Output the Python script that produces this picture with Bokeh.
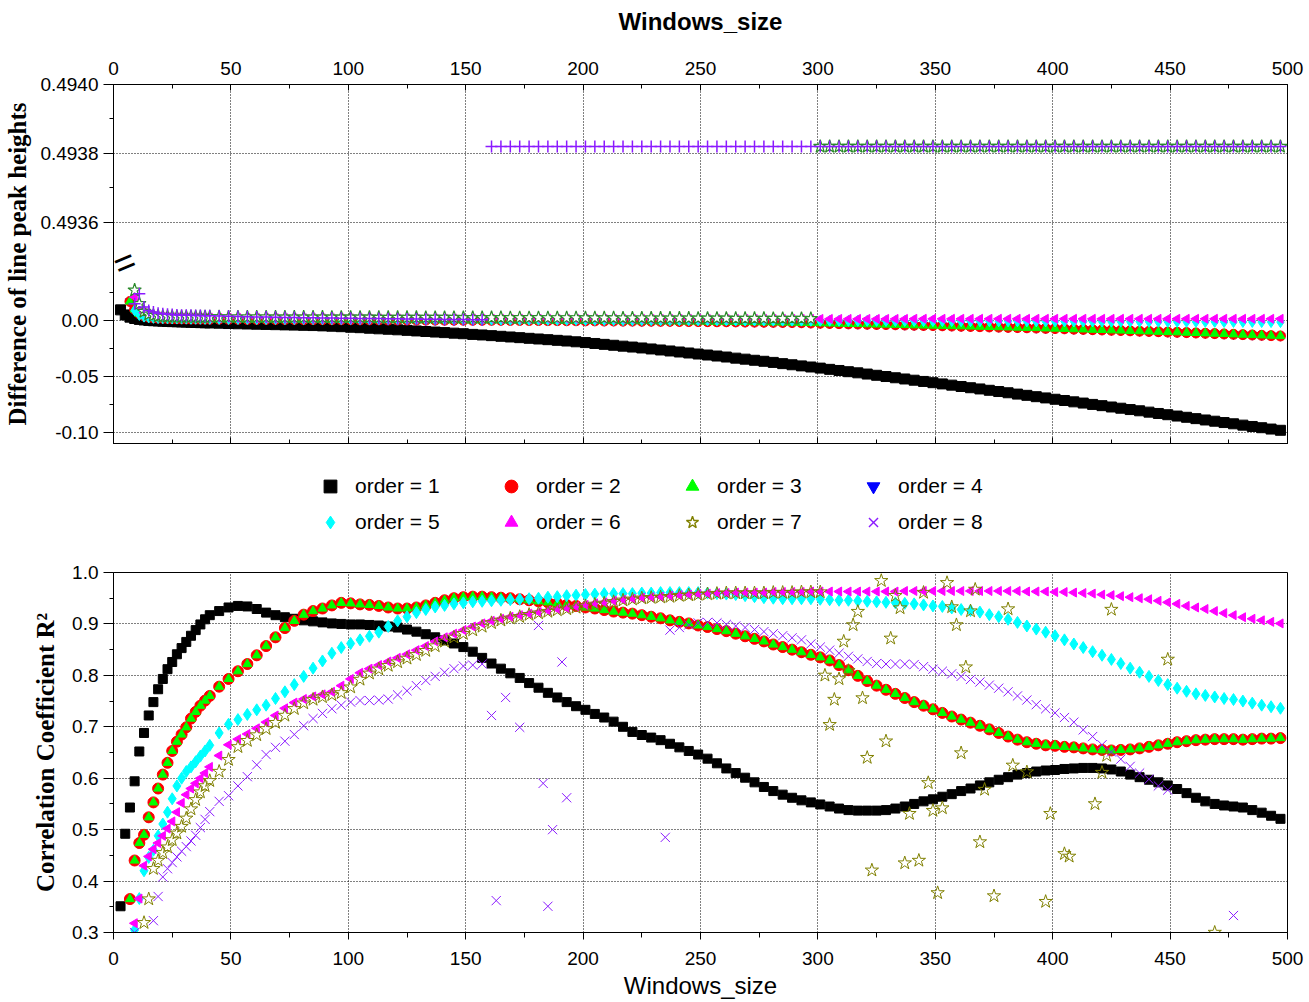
import math
from bokeh.plotting import figure
from bokeh.models import (Range1d, LinearAxis, FixedTicker, SingleIntervalTicker, Label,
                          Legend, LegendItem)
from bokeh.layouts import column
from bokeh.embed import file_html
from bokeh.resources import INLINE

SANS = "Liberation Sans"
SERIF = "Liberation Serif"

# ---------------- window sizes (x) ----------------
win = list(range(3, 42, 2)) + list(range(45, 498, 4))   # 134 window sizes

# ================= TOP PANEL: difference of line peak heights =================
top_o1 = [0.0095, 0.0050, 0.0030, 0.0018, 0.0010, 0.0005, 0.0001, -0.0002, -0.0004, -0.0006,
          -0.0008, -0.0010, -0.0011, -0.0013, -0.0014, -0.0016, -0.0017, -0.0019, -0.0020, -0.0022,
          -0.0024, -0.0027, -0.0029, -0.0031, -0.0033, -0.0035, -0.0037, -0.0039, -0.0041, -0.0043,
          -0.0045, -0.0048, -0.0051, -0.0055, -0.0060, -0.0064, -0.0069, -0.0074, -0.0078, -0.0083,
          -0.0088, -0.0093, -0.0098, -0.0103, -0.0108, -0.0113, -0.0118, -0.0124, -0.0129, -0.0135,
          -0.0141, -0.0147, -0.0153, -0.0159, -0.0165, -0.0171, -0.0177, -0.0183, -0.0190, -0.0197,
          -0.0205, -0.0213, -0.0221, -0.0229, -0.0237, -0.0245, -0.0254, -0.0263, -0.0272, -0.0281,
          -0.0290, -0.0299, -0.0308, -0.0317, -0.0326, -0.0336, -0.0345, -0.0355, -0.0364, -0.0374,
          -0.0385, -0.0395, -0.0405, -0.0415, -0.0425, -0.0436, -0.0446, -0.0457, -0.0467, -0.0478,
          -0.0489, -0.0500, -0.0511, -0.0522, -0.0533, -0.0544, -0.0555, -0.0566, -0.0577, -0.0589,
          -0.0600, -0.0611, -0.0623, -0.0634, -0.0645, -0.0657, -0.0668, -0.0680, -0.0691, -0.0703,
          -0.0714, -0.0726, -0.0737, -0.0749, -0.0760, -0.0772, -0.0783, -0.0795, -0.0806, -0.0818,
          -0.0830, -0.0841, -0.0853, -0.0864, -0.0876, -0.0888, -0.0899, -0.0911, -0.0922, -0.0934,
          -0.0946, -0.0957, -0.0969, -0.0980]
# orders 2, 3, 4 (start at window 7)
top_o2 = [0.0170, 0.0100, 0.0060, 0.0040, 0.0030, 0.0025, 0.0022, 0.0020, 0.0018, 0.0017,
          0.0016, 0.0015, 0.0015, 0.0014, 0.0014, 0.0013, 0.0013, 0.0012,
          0.0012, 0.0011, 0.0011, 0.0010, 0.0010, 0.0010, 0.0009, 0.0009, 0.0009, 0.0008,
          0.0008, 0.0008, 0.0007, 0.0007, 0.0007, 0.0006, 0.0006, 0.0006, 0.0005, 0.0005,
          0.0005, 0.0004, 0.0004, 0.0004, 0.0003, 0.0003, 0.0003, 0.0002, 0.0002, 0.0002,
          0.0002, 0.0001, 0.0001, 0.0000, 0.0000, -0.0001, -0.0001, -0.0002, -0.0002, -0.0003,
          -0.0003, -0.0004, -0.0004, -0.0005, -0.0005, -0.0006, -0.0006, -0.0007, -0.0007, -0.0008,
          -0.0009, -0.0009, -0.0010, -0.0011, -0.0011, -0.0012, -0.0013, -0.0014, -0.0015, -0.0016,
          -0.0017, -0.0018, -0.0020, -0.0022, -0.0024, -0.0026, -0.0028, -0.0030, -0.0031, -0.0033,
          -0.0035, -0.0036, -0.0038, -0.0040, -0.0042, -0.0044, -0.0045, -0.0047, -0.0049, -0.0051,
          -0.0053, -0.0055, -0.0057, -0.0059, -0.0061, -0.0063, -0.0065, -0.0067, -0.0070, -0.0072,
          -0.0074, -0.0077, -0.0079, -0.0082, -0.0084, -0.0087, -0.0089, -0.0092, -0.0095, -0.0097,
          -0.0100, -0.0103, -0.0105, -0.0108, -0.0111, -0.0114, -0.0117, -0.0120, -0.0123, -0.0126,
          -0.0129, -0.0132, -0.0135, -0.0138]
top_o3 = list(top_o2)
top_o4 = list(top_o2)
# order 5 (start at window 9)
top_o5 = [0.0090, 0.0050, 0.0035, 0.0028, 0.0024, 0.0022, 0.0020, 0.0019, 0.0018, 0.0018,
          0.0017, 0.0017, 0.0016, 0.0016, 0.0016, 0.0015, 0.0015,
          0.0015, 0.0014, 0.0014, 0.0014, 0.0013, 0.0013, 0.0013, 0.0012, 0.0012, 0.0012,
          0.0012, 0.0011, 0.0011, 0.0011, 0.0011, 0.0010, 0.0010, 0.0010, 0.0010, 0.0009,
          0.0009, 0.0009, 0.0009, 0.0008, 0.0008, 0.0008, 0.0008, 0.0007, 0.0007, 0.0007,
          0.0007, 0.0006, 0.0006, 0.0006, 0.0006, 0.0005, 0.0005, 0.0005, 0.0005, 0.0004,
          0.0004, 0.0004, 0.0004, 0.0003, 0.0003, 0.0003, 0.0003, 0.0002, 0.0002, 0.0002,
          0.0002, 0.0001, 0.0001, 0.0001, 0.0001, 0.0000, 0.0000, 0.0000, 0.0000, -0.0001,
          -0.0001, -0.0001, -0.0001, -0.0002, -0.0002, -0.0002, -0.0002, -0.0003, -0.0003, -0.0003,
          -0.0003, -0.0004, -0.0004, -0.0004, -0.0004, -0.0005, -0.0005, -0.0005, -0.0005, -0.0006,
          -0.0006, -0.0006, -0.0006, -0.0007, -0.0007, -0.0007, -0.0007, -0.0008, -0.0008, -0.0008,
          -0.0008, -0.0009, -0.0009, -0.0009, -0.0009, -0.0010, -0.0010, -0.0010, -0.0010, -0.0011,
          -0.0011, -0.0011, -0.0011, -0.0012, -0.0012, -0.0012, -0.0012, -0.0013, -0.0013, -0.0013,
          -0.0013, -0.0014, -0.0014, -0.0014]
# order 6 (start at window 9)
top_o6 = [0.0210, 0.0120, 0.0070, 0.0050, 0.0040, 0.0035, 0.0032, 0.0030, 0.0029, 0.0028,
          0.0027, 0.0026, 0.0026, 0.0025, 0.0025, 0.0024, 0.0024,
          0.0023, 0.0023, 0.0022, 0.0022, 0.0022, 0.0021, 0.0021, 0.0021, 0.0020, 0.0020,
          0.0020, 0.0020, 0.0019, 0.0019, 0.0019, 0.0019, 0.0018, 0.0018, 0.0018, 0.0018,
          0.0018, 0.0017, 0.0017, 0.0017, 0.0017, 0.0017, 0.0016, 0.0016, 0.0016, 0.0016,
          0.0016, 0.0016, 0.0016, 0.0015, 0.0015, 0.0015, 0.0015, 0.0015, 0.0015, 0.0015,
          0.0015, 0.0015, 0.0015, 0.0014, 0.0014, 0.0014, 0.0014, 0.0014, 0.0014, 0.0014,
          0.0014, 0.0014, 0.0014, 0.0014, 0.0014, 0.0014, 0.0014, 0.0014, 0.0014, 0.0014,
          0.0014, 0.0014, 0.0014, 0.0014, 0.0014, 0.0014, 0.0014, 0.0014, 0.0014, 0.0014,
          0.0014, 0.0014, 0.0014, 0.0014, 0.0015, 0.0015, 0.0015, 0.0015, 0.0015, 0.0015,
          0.0015, 0.0015, 0.0015, 0.0015, 0.0015, 0.0015, 0.0015, 0.0015, 0.0015, 0.0015,
          0.0015, 0.0015, 0.0015, 0.0015, 0.0015, 0.0015, 0.0015, 0.0015, 0.0015, 0.0015,
          0.0015, 0.0015, 0.0015, 0.0015, 0.0015, 0.0015, 0.0015, 0.0015, 0.0015, 0.0015,
          0.0015, 0.0015, 0.0015, 0.0015]
# order 7 (start at window 9): lower band up to 297, upper band from 301
top_o7 = [0.0270, 0.0150, 0.0080, 0.0055, 0.0045, 0.0040, 0.0037, 0.0035, 0.0034, 0.0033,
          0.0033, 0.0032, 0.0032, 0.0032, 0.0031, 0.0031, 0.0031,
          0.0031, 0.0030, 0.0030, 0.0030, 0.0030, 0.0030, 0.0029, 0.0029, 0.0029, 0.0029,
          0.0029, 0.0029, 0.0028, 0.0028, 0.0028, 0.0028, 0.0028, 0.0027, 0.0027, 0.0027,
          0.0027, 0.0027, 0.0026, 0.0026, 0.0026, 0.0026, 0.0025, 0.0025, 0.0025, 0.0025,
          0.0025, 0.0024, 0.0024, 0.0024, 0.0024, 0.0023, 0.0023, 0.0023, 0.0023, 0.0022,
          0.0022, 0.0022, 0.0022, 0.0021, 0.0021, 0.0021, 0.0021, 0.0020, 0.0020, 0.0020,
          0.0020, 0.0019, 0.0019, 0.0019, 0.0019, 0.0018, 0.0018, 0.0018, 0.0018, 0.0017,
          0.0017, 0.0017, 0.0017, 0.0016,
          0.49382, 0.49382, 0.49382, 0.49382, 0.49382, 0.49382, 0.49382, 0.49382, 0.49382, 0.49382,
          0.49382, 0.49382, 0.49382, 0.49382, 0.49382, 0.49382, 0.49382, 0.49382, 0.49382, 0.49382,
          0.49382, 0.49382, 0.49382, 0.49382, 0.49382, 0.49382, 0.49382, 0.49382, 0.49382, 0.49382,
          0.49382, 0.49382, 0.49382, 0.49382, 0.49382, 0.49382, 0.49382, 0.49382, 0.49382, 0.49382,
          0.49382, 0.49382, 0.49382, 0.49382, 0.49382, 0.49382, 0.49382, 0.49382, 0.49382, 0.49382]
# order 8 (start at window 9): lower band up to 157, upper band from 161
top_o8 = [0.0150, 0.0240, 0.0120, 0.0090, 0.0075, 0.0065, 0.0060, 0.0056, 0.0053, 0.0050,
          0.0048, 0.0047, 0.0046, 0.0045, 0.0044, 0.0043, 0.0042,
          0.0040, 0.0038, 0.0036, 0.0034, 0.0032, 0.0031, 0.0029, 0.0028, 0.0026, 0.0025,
          0.0024, 0.0023, 0.0022, 0.0021, 0.0020, 0.0019, 0.0018, 0.0017, 0.0016, 0.0015,
          0.0014, 0.0013, 0.0012, 0.0011, 0.0010, 0.0009, 0.0008, 0.0007, 0.0006,
          0.49382, 0.49382, 0.49382, 0.49382, 0.49382, 0.49382, 0.49382, 0.49382, 0.49382, 0.49382,
          0.49382, 0.49382, 0.49382, 0.49382, 0.49382, 0.49382, 0.49382, 0.49382, 0.49382, 0.49382,
          0.49382, 0.49382, 0.49382, 0.49382, 0.49382, 0.49382, 0.49382, 0.49382, 0.49382, 0.49382,
          0.49382, 0.49382, 0.49382, 0.49382, 0.49382, 0.49382, 0.49382, 0.49382, 0.49382, 0.49382,
          0.49382, 0.49382, 0.49382, 0.49382, 0.49382, 0.49382, 0.49382, 0.49382, 0.49382, 0.49382,
          0.49382, 0.49382, 0.49382, 0.49382, 0.49382, 0.49382, 0.49382, 0.49382, 0.49382, 0.49382,
          0.49382, 0.49382, 0.49382, 0.49382, 0.49382, 0.49382, 0.49382, 0.49382, 0.49382, 0.49382,
          0.49382, 0.49382, 0.49382, 0.49382, 0.49382, 0.49382, 0.49382, 0.49382, 0.49382, 0.49382,
          0.49382, 0.49382, 0.49382, 0.49382, 0.49382]

# ================= BOTTOM PANEL: correlation coefficient R^2 =================
r2_o1 = [0.351, 0.492, 0.543, 0.594, 0.652, 0.688, 0.722, 0.748, 0.773, 0.793,
         0.812, 0.826, 0.841, 0.853, 0.865, 0.877, 0.888, 0.899, 0.909, 0.917,
         0.925, 0.932, 0.935, 0.934, 0.929, 0.922, 0.917, 0.913, 0.910, 0.907,
         0.905, 0.903, 0.901, 0.900, 0.899, 0.899, 0.898, 0.897, 0.895, 0.893,
         0.889, 0.885, 0.880, 0.874, 0.868, 0.862, 0.855, 0.846, 0.834, 0.823,
         0.813, 0.804, 0.795, 0.785, 0.776, 0.766, 0.757, 0.748, 0.740, 0.733,
         0.725, 0.718, 0.710, 0.700, 0.690, 0.684, 0.679, 0.674, 0.667, 0.660,
         0.653, 0.646, 0.638, 0.629, 0.619, 0.610, 0.601, 0.592, 0.583, 0.575,
         0.568, 0.562, 0.557, 0.553, 0.549, 0.545, 0.541, 0.538, 0.537, 0.537,
         0.537, 0.538, 0.541, 0.545, 0.550, 0.555, 0.559, 0.564, 0.569, 0.575,
         0.580, 0.586, 0.592, 0.597, 0.602, 0.607, 0.610, 0.613, 0.615, 0.616,
         0.618, 0.619, 0.620, 0.620, 0.619, 0.617, 0.613, 0.607, 0.602, 0.597,
         0.592, 0.586, 0.579, 0.571, 0.562, 0.555, 0.550, 0.547, 0.545, 0.543,
         0.538, 0.533, 0.527, 0.521]
# orders 2, 3, 4 (start at window 7)
r2_o2 = [0.365, 0.440, 0.474, 0.490, 0.524, 0.553, 0.580, 0.607, 0.630, 0.653,
         0.671, 0.685, 0.699, 0.716, 0.729, 0.741, 0.751, 0.760,
         0.778, 0.793, 0.808, 0.822, 0.839, 0.857, 0.874, 0.892, 0.906, 0.918,
         0.925, 0.930, 0.936, 0.941, 0.940, 0.938, 0.937, 0.935, 0.932, 0.930,
         0.930, 0.932, 0.936, 0.941, 0.946, 0.950, 0.952, 0.953, 0.953, 0.952,
         0.951, 0.950, 0.948, 0.946, 0.944, 0.942, 0.940, 0.937, 0.935, 0.932,
         0.930, 0.927, 0.924, 0.922, 0.920, 0.917, 0.914, 0.911, 0.907, 0.904,
         0.901, 0.897, 0.894, 0.890, 0.886, 0.881, 0.876, 0.871, 0.866, 0.860,
         0.855, 0.850, 0.845, 0.840, 0.835, 0.829, 0.820, 0.810, 0.799, 0.789,
         0.780, 0.772, 0.764, 0.756, 0.748, 0.741, 0.734, 0.727, 0.720, 0.714,
         0.708, 0.702, 0.695, 0.688, 0.681, 0.675, 0.670, 0.667, 0.664, 0.663,
         0.661, 0.660, 0.658, 0.656, 0.655, 0.654, 0.655, 0.656, 0.658, 0.661,
         0.664, 0.667, 0.670, 0.672, 0.674, 0.675, 0.676, 0.676, 0.676, 0.675,
         0.676, 0.677, 0.677, 0.678]
r2_o3 = list(r2_o2)
r2_o4 = list(r2_o2)
# order 5 (start at window 9)
r2_o5 = [0.305, 0.366, 0.420, 0.446, 0.460, 0.488, 0.511, 0.534, 0.560, 0.585,
         0.600, 0.613, 0.622, 0.632, 0.643, 0.653, 0.664,
         0.688, 0.705, 0.714, 0.724, 0.733, 0.742, 0.755, 0.768, 0.782, 0.798,
         0.814, 0.828, 0.843, 0.854, 0.862, 0.869, 0.876, 0.884, 0.895, 0.906,
         0.914, 0.922, 0.928, 0.933, 0.936, 0.939, 0.941, 0.943, 0.944, 0.945,
         0.946, 0.947, 0.948, 0.949, 0.950, 0.952, 0.953, 0.955, 0.956, 0.957,
         0.958, 0.959, 0.959, 0.959, 0.959, 0.960, 0.960, 0.961, 0.961, 0.961,
         0.961, 0.961, 0.960, 0.959, 0.958, 0.957, 0.955, 0.953, 0.951, 0.950,
         0.949, 0.949, 0.949, 0.949, 0.948, 0.947, 0.946, 0.946, 0.945, 0.944,
         0.943, 0.942, 0.941, 0.940, 0.939, 0.937, 0.935, 0.934, 0.931, 0.928,
         0.926, 0.923, 0.918, 0.914, 0.909, 0.903, 0.896, 0.890, 0.884, 0.877,
         0.869, 0.861, 0.854, 0.846, 0.839, 0.831, 0.823, 0.814, 0.806, 0.798,
         0.790, 0.782, 0.775, 0.769, 0.764, 0.761, 0.758, 0.755, 0.753, 0.750,
         0.746, 0.742, 0.739, 0.736]
# order 6 (start at window 9)
r2_o6 = [0.318, 0.366, 0.430, 0.448, 0.462, 0.474, 0.488, 0.502, 0.516, 0.534,
         0.552, 0.568, 0.580, 0.590, 0.600, 0.610, 0.622,
         0.644, 0.665, 0.676, 0.686, 0.697, 0.709, 0.722, 0.736, 0.747, 0.754,
         0.759, 0.763, 0.768, 0.780, 0.793, 0.805, 0.813, 0.820, 0.827, 0.834,
         0.841, 0.849, 0.857, 0.866, 0.874, 0.881, 0.888, 0.895, 0.901, 0.906,
         0.910, 0.914, 0.917, 0.920, 0.923, 0.926, 0.929, 0.931, 0.934, 0.937,
         0.940, 0.942, 0.945, 0.947, 0.949, 0.951, 0.952, 0.953, 0.955, 0.956,
         0.957, 0.958, 0.959, 0.960, 0.960, 0.961, 0.961, 0.961, 0.961, 0.962,
         0.962, 0.962, 0.962, 0.963, 0.963, 0.963, 0.963, 0.963, 0.963, 0.963,
         0.963, 0.963, 0.963, 0.964, 0.964, 0.964, 0.964, 0.964, 0.964, 0.964,
         0.964, 0.964, 0.964, 0.964, 0.964, 0.964, 0.963, 0.963, 0.963, 0.962,
         0.962, 0.961, 0.960, 0.959, 0.957, 0.956, 0.954, 0.952, 0.950, 0.948,
         0.945, 0.942, 0.939, 0.935, 0.932, 0.929, 0.925, 0.921, 0.917, 0.913,
         0.910, 0.907, 0.904, 0.901]
# order 7: smooth part (windows 13 .. 301) and scattered part after 300
r2_o7 = [0.319, 0.365, 0.424, 0.440, 0.455, 0.466, 0.480, 0.493, 0.506, 0.522,
         0.540, 0.558, 0.573, 0.585, 0.595,
         0.613, 0.636, 0.661, 0.673, 0.684, 0.696, 0.708, 0.722, 0.735, 0.746,
         0.753, 0.758, 0.762, 0.766, 0.777, 0.792, 0.804, 0.812, 0.819, 0.826,
         0.833, 0.840, 0.848, 0.857, 0.866, 0.874, 0.881, 0.888, 0.895, 0.902,
         0.907, 0.911, 0.914, 0.918, 0.921, 0.924, 0.927, 0.929, 0.932, 0.935,
         0.938, 0.940, 0.943, 0.946, 0.948, 0.950, 0.951, 0.952, 0.953, 0.955,
         0.956, 0.957, 0.958, 0.959, 0.960, 0.960, 0.960, 0.960, 0.960, 0.961,
         0.961, 0.961, 0.962, 0.962, 0.962]
o7_scatter_x = [303, 305, 307, 309, 311, 313, 315, 317, 319, 321, 323, 327, 329, 331, 333, 335,
                337, 339, 343, 345, 347, 349, 351, 353, 355, 357, 359, 361, 363, 365, 367, 369,
                371, 375, 381, 383, 389, 397, 399, 405, 407, 418, 421, 423, 425, 449, 469]
o7_scatter_y = [0.800, 0.704, 0.753, 0.793, 0.866, 0.809, 0.898, 0.924, 0.756, 0.640, 0.421,
                0.984, 0.672, 0.872, 0.955, 0.931, 0.435, 0.531, 0.440, 0.961, 0.591, 0.537,
                0.377, 0.542, 0.980, 0.933, 0.898, 0.649, 0.816, 0.925, 0.967, 0.476, 0.578,
                0.371, 0.929, 0.625, 0.612, 0.360, 0.531, 0.453, 0.448, 0.550, 0.611, 0.644,
                0.928, 0.831, 0.300]
# order 8
o8_early_x = [9, 17, 19]
o8_early_y = [0.300, 0.323, 0.370]
r2_o8_a = [0.408, 0.424, 0.436, 0.447, 0.458, 0.467, 0.478, 0.489, 0.504, 0.520, 0.535,
           0.555, 0.566, 0.585, 0.603, 0.626, 0.646, 0.660, 0.672, 0.685, 0.702,
           0.716, 0.726, 0.735, 0.742, 0.748, 0.751, 0.751, 0.752, 0.754, 0.762,
           0.770, 0.780, 0.790, 0.798, 0.806, 0.813, 0.818, 0.820, 0.822]          # windows 21..157
o8_scatter_x = [161, 163, 167, 173, 181, 183, 185, 187, 191, 193, 235, 477]
o8_scatter_y = [0.722, 0.362, 0.757, 0.699, 0.897, 0.590, 0.351, 0.500, 0.826, 0.562, 0.485, 0.333]
r2_o8_b = [0.888, 0.893,
           0.898, 0.902, 0.903, 0.902, 0.899, 0.896, 0.893, 0.889, 0.885, 0.881,
           0.877, 0.873, 0.869, 0.861, 0.855, 0.849, 0.843, 0.837, 0.832, 0.827,
           0.823, 0.822, 0.822, 0.822, 0.821, 0.817, 0.812, 0.808, 0.803, 0.798,
           0.792, 0.787, 0.781, 0.775, 0.768, 0.760, 0.752, 0.743, 0.735, 0.727,
           0.718, 0.709, 0.694, 0.681, 0.665, 0.651, 0.637, 0.623, 0.610, 0.598,
           0.585, 0.577]                                                         # windows 237..449

labels = ["order = 1", "order = 2", "order = 3", "order = 4",
          "order = 5", "order = 6", "order = 7", "order = 8"]

# x positions for the partial series (slices of the window list)
x_o2 = win[2:]
x_o5 = win[3:]
x_o7 = win[5:85] + o7_scatter_x
y_o7 = r2_o7 + o7_scatter_y
x_o8 = o8_early_x + win[9:49] + o8_scatter_x[:11] + win[68:122] + o8_scatter_x[11:]
y_o8 = o8_early_y + r2_o8_a + o8_scatter_y[:11] + r2_o8_b + o8_scatter_y[11:]

# ---------------- broken axis definition (top panel) ----------------
UPPER = (0.4929594, 0.4940)      # range of the upper segment (mapped to the full frame)
LOWER = (-0.1098, 0.21071)       # range of the lower segment (mapped to the full frame)
BREAK_Y = 0.0518                 # break position, lower-segment units


def to_lower(u):
    return LOWER[0] + (u - UPPER[0]) / (UPPER[1] - UPPER[0]) * (LOWER[1] - LOWER[0])


def style_axis(ax, tin, tout, min_in, min_out, standoff):
    ax.axis_line_color = "black"
    ax.major_tick_line_color = "black"
    ax.minor_tick_line_color = "black"
    ax.major_tick_in = tin
    ax.major_tick_out = tout
    ax.minor_tick_in = min_in
    ax.minor_tick_out = min_out
    ax.major_label_text_font = SANS
    ax.major_label_text_font_size = "19px"
    ax.major_label_text_color = "black"
    ax.major_label_standoff = standoff


def style_grid(p):
    for g in (p.xgrid, p.ygrid):
        g.grid_line_color = "black"
        g.grid_line_dash = "1 2"
        g.grid_line_alpha = 1.0


PURPLE = "#8b1aff"
# style of every order in the R^2 panel (also used for the legend)
R2_STYLE = [
    dict(marker="square", size=9, color="black"),
    dict(marker="circle", size=11, color="red"),
    dict(marker="triangle", size=9, color="#00ff00"),
    dict(marker="inverted_triangle", size=9, color="blue"),
    dict(marker="diamond", size=12, color="cyan"),
    dict(marker="triangle", angle=math.pi / 2, size=9, color="magenta"),
    dict(marker="star", size=14, line_color="#808000", fill_color=None, line_width=1),
    dict(marker="x", size=13, color=PURPLE, line_width=1),
]
R2_DATA = [(win, r2_o1), (x_o2, r2_o2), (x_o2, r2_o3), (x_o2, r2_o4),
           (x_o5, r2_o5), (x_o5, r2_o6), (x_o7, y_o7), (x_o8, y_o8)]
DRAW_ORDER = [0, 3, 1, 2, 4, 5, 6, 7]   # order 4 sits underneath orders 2 and 3

# ================= top figure =================
p1 = figure(width=1309, height=448, x_range=Range1d(0, 500), y_range=Range1d(*LOWER),
            x_axis_location="above", output_backend="svg", toolbar_location=None,
            min_border_left=113, min_border_right=22, min_border_top=84, min_border_bottom=5)
p1.extra_y_ranges = {"upper": Range1d(*UPPER)}
p1.outline_line_color = "black"
p1.outline_line_alpha = 1.0

ax_top = p1.xaxis[0]
ax_top.ticker = SingleIntervalTicker(interval=50, num_minor_ticks=2)
style_axis(ax_top, 6, 0, 4, 0, 10)
ax_top.axis_label = "Windows_size"
ax_top.axis_label_text_font = SANS
ax_top.axis_label_text_font_style = "bold"
ax_top.axis_label_text_font_size = "24px"
ax_top.axis_label_text_color = "black"
ax_top.axis_label_standoff = 24

# mirror axis on the bottom edge of the top panel: inward ticks only, no labels
ax_tb = LinearAxis(ticker=SingleIntervalTicker(interval=50, num_minor_ticks=2))
style_axis(ax_tb, 6, 0, 4, 0, 0)
ax_tb.major_label_text_font_size = "0px"
ax_tb.major_label_text_alpha = 0
ax_tb.major_label_text_color = None
p1.add_layout(ax_tb, "below")

low_ticks = [-0.10, -0.05, 0.0]
up_ticks = [0.4936, 0.4938, 0.4940]
up_pos = [to_lower(u) for u in up_ticks]
ay1 = p1.yaxis[0]
ay1.ticker = FixedTicker(ticks=low_ticks + up_pos,
                         minor_ticks=[-0.075, -0.025, 0.025, to_lower(0.4937), to_lower(0.4939)])
overrides = {t: f"{t:.2f}" for t in low_ticks}
overrides.update({pos: f"{u:.4f}" for pos, u in zip(up_pos, up_ticks)})
ay1.major_label_overrides = overrides
style_axis(ay1, 0, 10, 0, 4, 5)
ay1.axis_label = "Difference of line peak heights"
ay1.axis_label_text_font = SERIF
ay1.axis_label_text_font_style = "bold"
ay1.axis_label_text_font_size = "25px"
ay1.axis_label_text_color = "black"
ay1.axis_label_standoff = 6

p1.xgrid.ticker = SingleIntervalTicker(interval=50)
p1.ygrid.ticker = FixedTicker(ticks=low_ticks + up_pos[:2])
style_grid(p1)

# axis-break mark (kept just inside the frame, where annotations are drawn)
p1.add_layout(Label(x=0, y=BREAK_Y, x_offset=11, text="=", angle=0.4, text_font=SANS,
                    text_font_size="36px", text_align="center", text_baseline="middle",
                    text_color="black", level="overlay"))

# order 1..8 (order 4 drawn underneath orders 2 and 3)
p1.scatter(win, top_o1, marker="square", size=10, color="black")
p1.scatter(x_o2, top_o4, marker="inverted_triangle", size=9, color="blue")
p1.scatter(x_o2, top_o2, marker="circle", size=10, color="red")
p1.scatter(x_o2, top_o3, marker="triangle", size=9, color="#00ff00")
p1.scatter(x_o5, top_o5, marker="diamond", size=11, color="cyan")
p1.scatter(x_o5, top_o6, marker="triangle", angle=math.pi / 2, size=9, color="magenta")
for rng in ("default", "upper"):
    p1.scatter(x_o5, top_o7, marker="star", size=14, line_color="#2a8a2a", fill_color="white",
               line_width=1.2, y_range_name=rng)
for rng in ("default", "upper"):
    p1.scatter(x_o5, top_o8, marker="cross", size=12, line_color=PURPLE, line_width=1.5,
               y_range_name=rng)

# ================= legend strip (between the panels) =================
p_leg = figure(width=1309, height=112, x_range=Range1d(-20, -10), y_range=Range1d(-20, -10),
               x_axis_type=None, y_axis_type=None, output_backend="svg", toolbar_location=None,
               min_border=0)
p_leg.outline_line_color = None
p_leg.grid.visible = False
leg_r = []
for (x, y), st in zip(R2_DATA, R2_STYLE):
    st = dict(st)
    if st["marker"] in ("x", "star"):
        st["line_width"] = 1.4
    leg_r.append(p_leg.scatter(x, y, **st))
legend = Legend(items=[LegendItem(label=lab, renderers=[r]) for lab, r in zip(labels, leg_r)],
                orientation="horizontal", ncols=4, location=(201, 20),
                glyph_width=32, glyph_height=36, label_width=140, label_height=36,
                label_standoff=9, spacing=0, padding=0, margin=0,
                label_text_font=SANS, label_text_font_size="21px", label_text_color="black",
                background_fill_alpha=0, border_line_alpha=0)
p_leg.add_layout(legend)

# ================= bottom figure =================
p2 = figure(width=1309, height=442, x_range=Range1d(0, 500), y_range=Range1d(0.3, 1.0),
            output_backend="svg", toolbar_location=None,
            min_border_left=113, min_border_right=22, min_border_top=12, min_border_bottom=70)
p2.outline_line_color = "black"

ax2 = p2.xaxis[0]
ax2.ticker = SingleIntervalTicker(interval=50, num_minor_ticks=2)
style_axis(ax2, 0, 7, 0, 5, 12)
ax2.axis_label = "Windows_size"
ax2.axis_label_text_font = SANS
ax2.axis_label_text_font_style = "normal"
ax2.axis_label_text_font_size = "24px"
ax2.axis_label_text_color = "black"
ax2.axis_label_standoff = 4

y2_ticks = [0.3, 0.4, 0.5, 0.6, 0.7, 0.8, 0.9, 1.0]
ay2 = p2.yaxis[0]
ay2.ticker = FixedTicker(ticks=y2_ticks, minor_ticks=[0.35, 0.45, 0.55, 0.65, 0.75, 0.85, 0.95])
ay2.major_label_overrides = {t: f"{t:.1f}" for t in y2_ticks}
style_axis(ay2, 0, 10, 0, 4, 5)
ay2.axis_label = "Correlation Coefficient R²"
ay2.axis_label_text_font = SERIF
ay2.axis_label_text_font_style = "bold"
ay2.axis_label_text_font_size = "25px"
ay2.axis_label_text_color = "black"
ay2.axis_label_standoff = 10

p2.xgrid.ticker = SingleIntervalTicker(interval=50)
p2.ygrid.ticker = FixedTicker(ticks=[0.4, 0.5, 0.6, 0.7, 0.8, 0.9])
style_grid(p2)

for i in DRAW_ORDER:
    x, y = R2_DATA[i]
    p2.scatter(x, y, **R2_STYLE[i])

layout = column(p1, p_leg, p2, spacing=0)
open("out.html", "w").write(file_html(layout, INLINE))
